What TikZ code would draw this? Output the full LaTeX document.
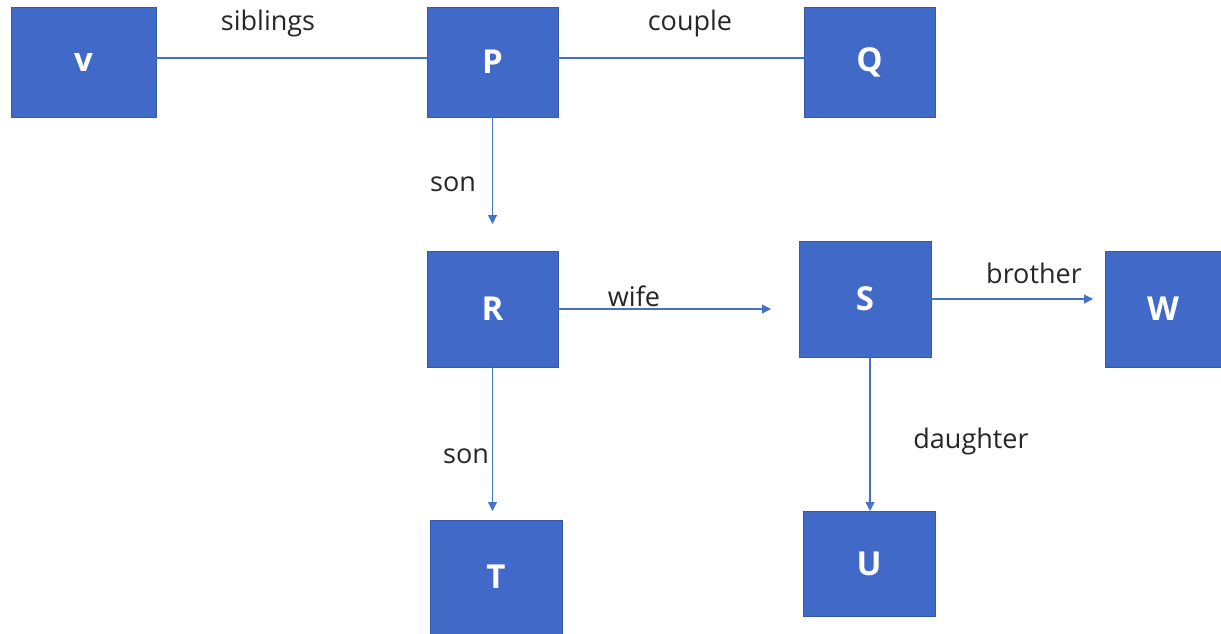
\documentclass[tikz,border=0pt]{standalone}
\usepackage{fontspec}
\setmainfont{Open Sans}
\usetikzlibrary{arrows.meta}
\definecolor{boxblue}{HTML}{4169C8}
\definecolor{boxedge}{HTML}{3558A8}
\definecolor{linkblue}{HTML}{4472C4}
\begin{document}
\begin{tikzpicture}[x=1pt,y=-1pt,
            person/.style={rectangle,fill=boxblue,draw=boxedge,line width=0.8pt,
                             text=white,font=\fontsize{33}{38}\selectfont\bfseries,inner sep=0,outer sep=0},
            link/.style={draw=linkblue,line width=1.2pt},
            arrow link/.style={link,-{Triangle[length=9pt,width=9pt]}},
            tag/.style={font=\fontsize{27}{32}\selectfont,text=black!85,inner sep=0}]
            \useasboundingbox (0,0) rectangle (1221,634);
            %==================
            \node[person,minimum width=145pt,minimum height=110pt] (v) at (83.5,62){v};
            \node[person,minimum width=131pt,minimum height=110pt] (p) at (492.5,62){P};
            \node[person,minimum width=131pt,minimum height=110pt] (q) at (869.5,62){Q};
            %==================
            \node[person,minimum width=131pt,minimum height=116pt] (r) at (492.5,309){R};
            \node[person,minimum width=132pt,minimum height=116pt] (s) at (865,299){S};
            \node[person,minimum width=116pt,minimum height=116pt,anchor=north east] (w) at (1221,251){W};
            %==================
            \node[person,minimum width=132pt,minimum height=114pt,anchor=north] (t) at (496,520){T};
            \node[person,minimum width=132pt,minimum height=105pt] (u) at (869,563.5){U};
            % ===================
            \coordinate (pr) at (492.5,224);
            \coordinate (rs) at (771,309);
            \coordinate (sw) at (1093,299);
            \coordinate (rt) at (492.5,511);
            \coordinate (su) at (870,511);
            % ===================
            \draw[link] (v.east |- 0,58) -- (p.west |- 0,58);
            \draw[link] (p.east |- 0,58) -- (q.west |- 0,58);
            \draw[arrow link] (p.south) -- (pr);
            \draw[arrow link] (r.east) -- (rs);
            \draw[arrow link] (s.east) -- (sw);
            \draw[arrow link] (r.south) -- (rt);
            \draw[arrow link] (s.south -| su) -- (su);
            % ===================
            \node[tag] (siblings) at (268,23){siblings};
            \node[tag] (couple) at (690,23){couple};
            \node[tag] (son1) at (453,184){son};
            \node[tag] (wife) at (634,296){wife};
            \node[tag] (brother) at (1034,273){brother};
            \node[tag] (son2) at (466,456){son};
            \node[tag] (daughter) at (971,441){daughter};
        \end{tikzpicture}
\end{document}
